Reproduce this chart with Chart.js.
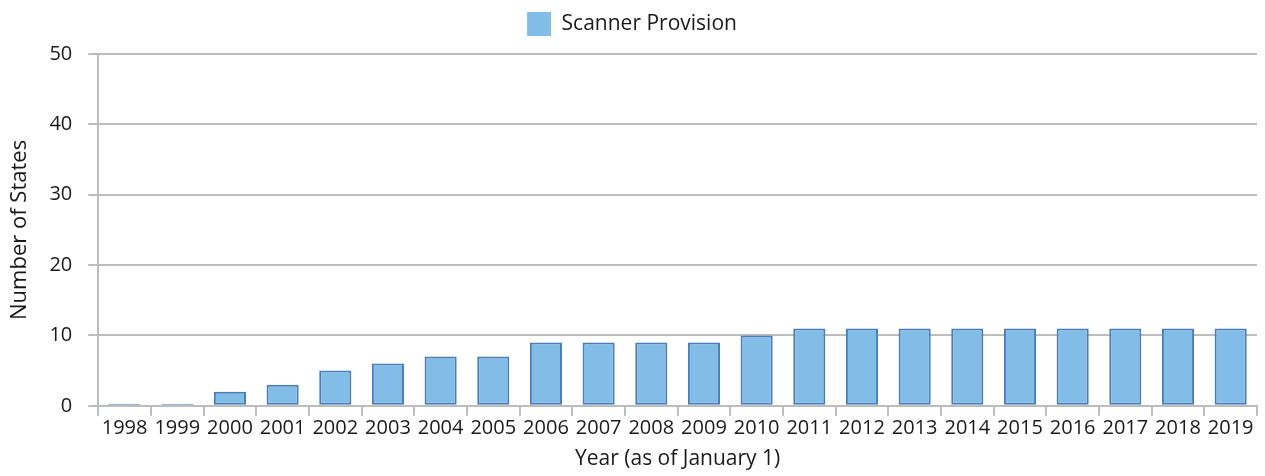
<!DOCTYPE html>
<html>
<head>
<meta charset="utf-8">
<script src="https://cdn.jsdelivr.net/npm/chart.js@4.4.1/dist/chart.umd.min.js"></script>
<style>
  html, body { margin: 0; padding: 0; background: #fff; }
  #wrap { width: 1265px; height: 476px; position: relative; }
</style>
</head>
<body>
<div id="wrap"><canvas id="chart"></canvas></div>
<script>
/* data */
const years = ['1998','1999','2000','2001','2002','2003','2004','2005','2006','2007','2008',
               '2009','2010','2011','2012','2013','2014','2015','2016','2017','2018','2019'];
const scannerStates = [0, 0, 2, 3, 5, 6, 7, 7, 9, 9, 9, 9, 10, 11, 11, 11, 11, 11, 11, 11, 11, 11];
const yTicks = [0, 10, 20, 30, 40, 50];

const FONT = "'Open Sans', sans-serif";
const GRID = '#bdbdbd';
const INK = '#1a1a1a';

// extra space under the legend
const legendGap = {
  id: 'legendGap',
  beforeInit(chart) {
    const fit = chart.legend.fit;
    chart.legend.fit = function () {
      fit.bind(chart.legend)();
      this.height += 8;
    };
  },
};

new Chart(document.getElementById('chart'), {
  type: 'bar',
  data: {
    labels: years,
    datasets: [{
      label: 'Scanner Provision',
      data: scannerStates,
      backgroundColor: '#82bde8',
      borderColor: '#4a7ebb',
      borderWidth: 2,
      borderSkipped: false,
      minBarLength: 2,
      barPercentage: 0.61,
      categoryPercentage: 1,
    }],
  },
  options: {
    responsive: true,
    maintainAspectRatio: false,
    animation: false,
    layout: { padding: { left: 7, right: 8, top: 0, bottom: 4 } },
    plugins: {
      tooltip: { enabled: false },
      legend: {
        position: 'top',
        labels: {
          color: INK,
          font: { size: 21, family: FONT },
          boxWidth: 24,
          boxHeight: 24,
          padding: 12,
          generateLabels: chart =>
            Chart.defaults.plugins.legend.labels.generateLabels(chart)
              .map(l => ({ ...l, lineWidth: 0 })),
        },
      },
    },
    scales: {
      x: {
        grid: {
          offset: true,
          drawOnChartArea: false,
          color: GRID,
          lineWidth: 2,
          tickLength: 10,
        },
        border: { color: GRID, width: 2 },
        ticks: { color: INK, font: { size: 20, family: FONT }, padding: 0, maxRotation: 0, autoSkip: false },
        title: {
          display: true,
          text: 'Year (as of January 1)',
          color: INK,
          font: { size: 21, family: FONT },
          padding: { top: 7, bottom: 0 },
        },
      },
      y: {
        min: 0,
        max: 50,
        afterBuildTicks: axis => { axis.ticks = yTicks.map(v => ({ value: v })); },
        grid: { color: GRID, lineWidth: 2, tickLength: 10 },
        border: { color: GRID, width: 2 },
        ticks: { color: INK, font: { size: 20, family: FONT }, padding: 16 },
        title: {
          display: true,
          text: 'Number of States',
          color: INK,
          font: { size: 22, family: FONT },
          padding: { top: 0, bottom: 0 },
        },
      },
    },
  },
  plugins: [legendGap],
});
</script>
</body>
</html>
